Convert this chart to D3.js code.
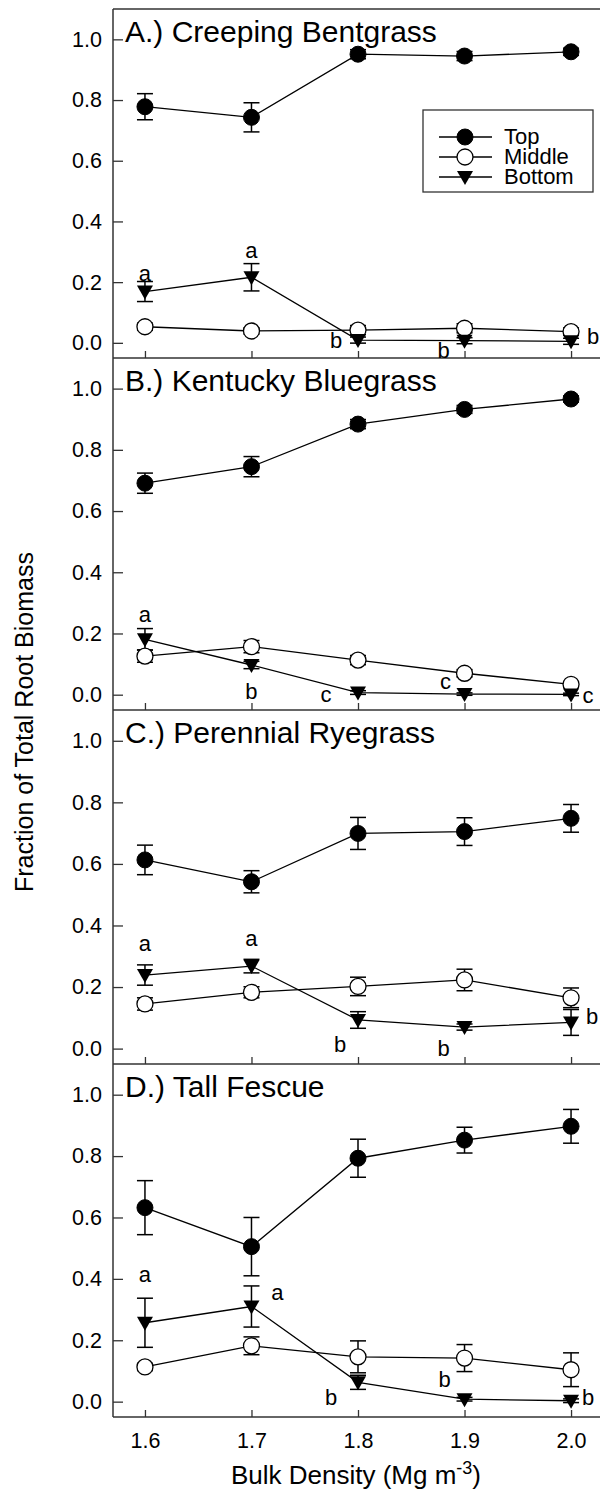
<!DOCTYPE html>
<html>
<head>
<meta charset="utf-8">
<script src="https://cdn.jsdelivr.net/npm/d3@7"></script>
<style>
  body { margin: 0; background: #fff; }
  svg { display: block; font-family: "Liberation Sans", Arial, sans-serif; }
</style>
</head>
<body>
<svg width="600" height="1494"></svg>
<script>
// bulk density levels (x)
var densities = [1.6, 1.7, 1.8, 1.9, 2.0];

var panelTitles = ["A.) Creeping Bentgrass", "B.) Kentucky Bluegrass", "C.) Perennial Ryegrass", "D.) Tall Fescue"];

// fraction of root biomass, one row per panel
var topMean = [
  [0.778, 0.743, 0.951, 0.945, 0.959],
  [0.691, 0.745, 0.884, 0.932, 0.966],
  [0.613, 0.542, 0.699, 0.705, 0.748],
  [0.632, 0.505, 0.793, 0.852, 0.897]
];
var topErr = [
  [0.043, 0.048, 0.015, 0.015, 0.012],
  [0.033, 0.033, 0.015, 0.013, 0.010],
  [0.048, 0.036, 0.052, 0.045, 0.045],
  [0.088, 0.095, 0.062, 0.042, 0.055]
];
var middleMean = [
  [0.053, 0.039, 0.042, 0.048, 0.037],
  [0.126, 0.157, 0.113, 0.070, 0.034],
  [0.145, 0.183, 0.202, 0.223, 0.165],
  [0.113, 0.182, 0.146, 0.142, 0.104]
];
var middleErr = [
  [0.012, 0.010, 0.015, 0.015, 0.012],
  [0.020, 0.020, 0.015, 0.012, 0.008],
  [0.020, 0.018, 0.030, 0.035, 0.032],
  [0.012, 0.029, 0.052, 0.044, 0.055]
];
var bottomMean = [
  [0.169, 0.216, 0.009, 0.007, 0.005],
  [0.181, 0.097, 0.007, 0.002, 0.001],
  [0.239, 0.268, 0.093, 0.070, 0.085],
  [0.257, 0.310, 0.063, 0.008, 0.003]
];
var bottomErr = [
  [0.033, 0.045, 0.010, 0.010, 0.010],
  [0.035, 0.012, 0.006, 0.004, 0.004],
  [0.033, 0.022, 0.027, 0.010, 0.042],
  [0.080, 0.067, 0.023, 0.006, 0.006]
];
// mean separation letters for the bottom layer
var letters = [
  ["a", "a", "b", "b", "b"],
  ["a", "b", "c", "c", "c"],
  ["a", "a", "b", "b", "b"],
  ["a", "a", "b", "b", "b"]
];

var yTicks = [0, 0.2, 0.4, 0.6, 0.8, 1.0];
var seriesNames = ["Top", "Middle", "Bottom"];

// ---- layout ----
var svg = d3.select("svg");
var left = 113;
var panelEdges = [9, 358, 710, 1064, 1417];
var axisColor = "#333";
var font = "Liberation Sans, Arial, sans-serif";

// letter offsets from the bottom-series point [dx, dy to baseline]
var letterOffsets = [
  [[0, -11], [0, -19], [-22, 7.5], [-21, 17], [22, 3]],
  [[0, -17], [0, 34], [-32, 9.6], [-19, -5.3], [17, 9]],
  [[0, -24.5], [0, -20.6], [-18, 32.5], [-21, 28.5], [21, 1.8]],
  [[0, -40.6], [26, -6], [-27, 23], [-20, -11.7], [17, 4.7]]
];

var x = d3.scaleLinear().domain([1.57, 2.03]).range([left, left + 490]);

var triPath = "M-8,-6L8,-6L0,8Z";

function drawMarker(g, kind, cx, cy) {
  if (kind === "Top") {
    g.append("circle").attr("cx", cx).attr("cy", cy).attr("r", 8)
      .attr("fill", "#000").attr("stroke", "#000").attr("stroke-width", 1);
  } else if (kind === "Middle") {
    g.append("circle").attr("cx", cx).attr("cy", cy).attr("r", 8)
      .attr("fill", "#fff").attr("stroke", "#000").attr("stroke-width", 1.3);
  } else {
    g.append("path").attr("d", triPath).attr("transform", "translate(" + cx + "," + cy + ")")
      .attr("fill", "#000");
  }
}

panelTitles.forEach(function(title, p) {
  var y0 = panelEdges[p], y1 = panelEdges[p + 1];
  var y = d3.scaleLinear().domain([-0.05, 1.1]).range([y1, y0]);
  var g = svg.append("g");

  // frame: left + bottom, top only for the first panel
  g.append("line").attr("x1", left).attr("x2", left).attr("y1", y0).attr("y2", y1)
    .attr("stroke", axisColor).attr("stroke-width", 1.5);
  g.append("line").attr("x1", left).attr("x2", 600).attr("y1", y1).attr("y2", y1)
    .attr("stroke", axisColor).attr("stroke-width", 1.5);
  if (p === 0) {
    g.append("line").attr("x1", left).attr("x2", 600).attr("y1", y0).attr("y2", y0)
      .attr("stroke", axisColor).attr("stroke-width", 1.5);
  }

  // y ticks (inward)
  var yAxis = d3.axisLeft(y).tickValues(yTicks).tickSize(-10).tickPadding(11)
    .tickFormat(d3.format(".1f"));
  var ya = g.append("g").attr("transform", "translate(" + left + ",0)").call(yAxis);
  ya.select(".domain").remove();
  ya.selectAll(".tick line").attr("stroke", axisColor).attr("stroke-width", 1.3);
  ya.selectAll(".tick text").attr("font-size", 21.5).attr("fill", "#000")
    .attr("font-family", font);

  // x ticks (inward), labels on the last panel only
  var xAxis = d3.axisBottom(x).tickValues(densities).tickSize(-7).tickPadding(16)
    .tickFormat(p === 3 ? d3.format(".1f") : function() { return ""; });
  var xa = g.append("g").attr("transform", "translate(0," + y1 + ")").call(xAxis);
  xa.select(".domain").remove();
  xa.selectAll(".tick line").attr("stroke", axisColor).attr("stroke-width", 1.3);
  xa.selectAll(".tick text").attr("font-size", 21.5).attr("fill", "#000")
    .attr("font-family", font);

  // panel title
  g.append("text").attr("x", left + 12).attr("y", y0 + 33).attr("font-size", 30)
    .text(title);

  var series = [
    {name: "Top", mean: topMean[p], err: topErr[p]},
    {name: "Middle", mean: middleMean[p], err: middleErr[p]},
    {name: "Bottom", mean: bottomMean[p], err: bottomErr[p]}
  ];

  var line = d3.line().x(function(d, i) { return x(densities[i]); }).y(function(d) { return y(d); });

  series.forEach(function(s) {
    g.append("path").attr("d", line(s.mean)).attr("fill", "none")
      .attr("stroke", "#000").attr("stroke-width", 1.3);
  });

  // error bars
  series.forEach(function(s) {
    s.mean.forEach(function(m, i) {
      var cx = x(densities[i]);
      var hi = y(m + s.err[i]), lo = y(m - s.err[i]);
      g.append("line").attr("x1", cx).attr("x2", cx).attr("y1", hi).attr("y2", lo)
        .attr("stroke", "#000").attr("stroke-width", 1.5);
      [hi, lo].forEach(function(yy) {
        g.append("line").attr("x1", cx - 8).attr("x2", cx + 8).attr("y1", yy).attr("y2", yy)
          .attr("stroke", "#000").attr("stroke-width", 1.5);
      });
    });
  });

  series.forEach(function(s) {
    s.mean.forEach(function(m, i) {
      drawMarker(g, s.name, x(densities[i]), y(m));
    });
  });

  letters[p].forEach(function(t, i) {
    var off = letterOffsets[p][i];
    g.append("text")
      .attr("x", x(densities[i]) + off[0])
      .attr("y", y(bottomMean[p][i]) + off[1])
      .attr("text-anchor", "middle").attr("font-size", 22)
      .text(t);
  });

  // legend in first panel
  if (p === 0) {
    var lg = g.append("g");
    lg.append("rect").attr("x", 423).attr("y", 110).attr("width", 170).attr("height", 82)
      .attr("fill", "#fff").attr("stroke", axisColor).attr("stroke-width", 1.3);
    seriesNames.forEach(function(name, k) {
      var ly = 137 + k * 20;
      lg.append("line").attr("x1", 439).attr("x2", 492).attr("y1", ly).attr("y2", ly)
        .attr("stroke", "#000").attr("stroke-width", 1.3);
      drawMarker(lg, name, 465, ly);
      lg.append("text").attr("x", 504).attr("y", ly + 7).attr("font-size", 22).text(name);
    });
  }
});

// axis titles
svg.append("text")
  .attr("transform", "translate(33,722) rotate(-90)")
  .attr("text-anchor", "middle").attr("font-size", 25)
  .text("Fraction of Total Root Biomass");

var xt = svg.append("text").attr("x", 356).attr("y", 1484)
  .attr("text-anchor", "middle").attr("font-size", 26);
xt.append("tspan").text("Bulk Density (Mg m");
xt.append("tspan").attr("dy", -10).attr("font-size", 18).text("-3");
xt.append("tspan").attr("dy", 10).text(")");
</script>
</body>
</html>
